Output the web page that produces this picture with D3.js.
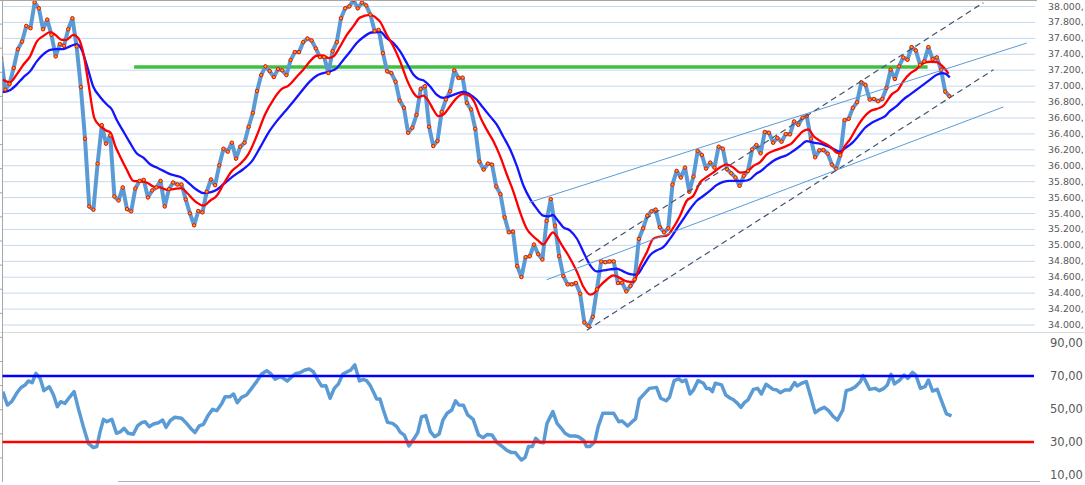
<!DOCTYPE html>
<html><head><meta charset="utf-8">
<script src="https://cdn.jsdelivr.net/npm/d3@7"></script>
<style>html,body{margin:0;padding:0;background:#fff;overflow:hidden}svg{display:block}</style>
</head><body><svg id="c" width="1085" height="485"></svg>
<script>
// ---------- DATA ----------
const priceValues = [37350,36950,37021,37221,37458,37554,37750,37721,38046,37971,
37708,37829,37638,37367,37521,37500,37708,37846,37492,36983,
36333,35483,35442,36021,36504,36271,36375,35608,35558,35721,
35450,35421,35708,35804,35817,35596,35683,35721,35804,35483,
35700,35783,35758,35758,35571,35396,35246,35425,35408,35667,
35821,35750,36000,36208,36171,36283,36083,36233,36283,36483,
36658,36933,37133,37242,37183,37108,37208,37192,37133,37321,
37421,37421,37546,37592,37567,37467,37358,37358,37158,37433,
37546,37846,37971,37996,38075,37971,38042,38008,37892,37687,
37700,37408,37179,37158,37050,36812,36721,36408,36471,36633,
36958,36992,36483,36242,36304,36671,36825,36929,37192,37096,
37100,36783,36700,36458,36046,35946,36021,36008,35733,35637,
35346,35158,35167,34733,34596,34846,34858,35004,34883,34817,
35300,35575,35242,34858,34608,34504,34504,34521,34387,34025,
33979,34096,34442,34792,34783,34792,34792,34521,34525,34417,
34483,34567,35075,35208,35367,35421,35442,35221,35158,35208,
35758,35929,35846,35971,35667,35858,36179,36129,35958,36033,
35971,36233,36208,35950,35900,35846,35742,35867,35929,36200,
36254,36150,36417,36408,36283,36342,36296,36392,36388,36550,
36508,36596,36617,36333,36100,36187,36192,36146,36008,35958,
36125,36567,36583,36721,36792,37042,37008,36825,36833,36804,
36833,36971,37200,37083,37242,37354,37325,37483,37442,37262,
37304,37483,37333,37354,37200,36925,36867];
const categories = priceValues.map((_, i) => i);

// moving averages: [session index, value]
const redMA = [[0.4,37075],[2.1,37042],[3.7,37138],[5.3,37262],[6.9,37367],[8.5,37554],[10.1,37625],[11.7,37671],[12.9,37638],[14.4,37575],[15.6,37575],[17.2,37638],[18.4,37596],[19.6,37408],[20.8,37033],[22.2,36596],[23.6,36492],[25,36437],[26.1,36408],[27.2,36242],[28.3,36117],[29.9,35950],[31.5,35804],[33.1,35796],[34.7,35783],[36.3,35733],[37.9,35721],[39.5,35692],[41.1,35700],[43,35713],[44.2,35658],[46.6,35533],[48.2,35492],[49.8,35554],[51.4,35617],[53,35762],[55,35929],[56.9,36012],[58.9,36137],[60.9,36367],[62.9,36637],[64.9,36825],[66.9,36958],[68.5,37000],[70.4,37108],[72,37200],[73.6,37304],[75.2,37375],[76.8,37379],[78,37346],[79.2,37367],[80.8,37492],[82.4,37638],[84,37750],[85.5,37854],[87.9,37888],[89.5,37846],[90.3,37804],[91.9,37638],[93.5,37492],[95.1,37304],[96.7,37075],[98.3,36908],[99.4,36854],[100.6,36875],[101.8,36812],[103,36700],[104.2,36617],[105.4,36637],[107,36742],[108.6,36846],[110.2,36896],[111.8,36867],[112.9,36783],[114.1,36617],[115.7,36450],[117.3,36304],[118.9,36117],[120.5,35887],[122.1,35667],[123.7,35408],[125.3,35200],[126.8,35108],[128,35054],[129.2,35004],[130.4,35087],[131.5,35158],[132.4,35108],[133.6,35000],[135.2,34867],[137.2,34667],[138.8,34471],[140.4,34375],[141.5,34400],[142.7,34483],[144.3,34562],[145.9,34617],[147.5,34583],[149.1,34542],[150.7,34533],[152.3,34742],[153.9,34908],[155.4,35075],[157,35104],[158.6,35117],[160.2,35217],[161.8,35367],[163.4,35554],[165,35617],[166.6,35783],[168.2,35854],[169.7,35908],[171.3,35971],[172.9,36012],[174.5,35971],[176.1,35908],[177.7,35917],[179.3,35992],[180.9,36040],[182.5,36137],[184,36179],[185.6,36208],[187.2,36242],[188.4,36275],[189.6,36346],[191.2,36429],[192.4,36450],[193.6,36367],[195.2,36304],[196.8,36262],[197.9,36221],[199.1,36158],[200.1,36150],[201.1,36242],[202.3,36325],[203.9,36471],[205.5,36596],[207.1,36679],[208.7,36708],[210.3,36750],[211.1,36804],[212.2,36887],[213.8,36950],[215,37054],[216.6,37150],[218.2,37208],[219.8,37283],[221.4,37300],[223,37296],[224.2,37250],[225.8,37150]];

const blueMA = [[0.4,36917],[2.1,36942],[3.7,37012],[5.3,37104],[6.9,37179],[8.5,37304],[10.1,37396],[11.7,37450],[13.2,37458],[14.8,37458],[16.4,37492],[18,37521],[19.2,37450],[20.4,37262],[22,36983],[23.6,36858],[25.2,36762],[26.4,36700],[27.5,36575],[29.1,36429],[30.7,36283],[32.3,36150],[33.9,36096],[35.5,36012],[37.1,35971],[38.7,35929],[40.3,35888],[41.8,35867],[43.4,35833],[45,35762],[46.6,35692],[48.2,35650],[49.8,35658],[51.4,35692],[53,35762],[55.4,35867],[57.7,35950],[59.7,36046],[61.7,36221],[63.7,36408],[65.7,36554],[67.7,36679],[69.7,36804],[71.6,36929],[73.6,37054],[75.2,37125],[76.8,37158],[78.4,37179],[80,37221],[81.6,37325],[83.2,37429],[84.7,37533],[86.3,37608],[88.3,37667],[89.9,37671],[90.3,37679],[91.9,37596],[93.5,37533],[95.1,37429],[96.7,37283],[98.3,37137],[99.4,37087],[100.6,37067],[102.2,36992],[103.8,36887],[105.4,36846],[107,36867],[108.6,36900],[110.2,36921],[111.8,36887],[113.3,36825],[114.9,36721],[116.5,36617],[118.1,36512],[119.7,36358],[121.3,36200],[122.9,35992],[124.5,35742],[126.1,35575],[127.6,35458],[129.2,35367],[130.4,35358],[131.5,35375],[132.4,35325],[134,35221],[135.6,35180],[137.2,35080],[138.8,34908],[140.4,34742],[141.9,34667],[143.5,34679],[145.1,34692],[146.7,34700],[148.3,34667],[149.9,34633],[151.5,34625],[153.1,34742],[154.6,34867],[156.2,34929],[157.8,34971],[159.4,35075],[161,35200],[162.6,35325],[164.2,35450],[165.8,35554],[167.4,35617],[168.9,35679],[170.5,35750],[172.1,35792],[173.7,35804],[175.3,35804],[176.9,35804],[178.5,35825],[180.1,35900],[180.9,35921],[182.5,35992],[184,36054],[185.6,36096],[187.2,36125],[188.8,36179],[190.4,36242],[192,36304],[193.6,36283],[195.2,36271],[196.8,36242],[198.3,36208],[199.9,36171],[201.1,36213],[202.7,36275],[204.3,36367],[205.9,36471],[207.5,36533],[209.1,36575],[210.7,36617],[211.8,36679],[213.4,36742],[215,36825],[216.6,36887],[218.2,36950],[219.8,37012],[221.4,37075],[223,37137],[224.2,37158],[225,37150],[226.1,37104]];

// RSI: [session index, value]
const rsiValues = [[0.4,60.5],[1.5,52.4],[2.5,54.4],[3.7,59.5],[4.7,62.9],[5.7,64.5],[6.5,67.0],[7.4,65.9],[8.3,71.6],[9.3,68.6],[10.2,61.1],[11.5,63.5],[12.5,58.5],[13.4,51.4],[14.2,54.4],[15.2,53.4],[16.3,57.1],[17.4,60.5],[18.4,50.4],[19.6,39.3],[20.8,29.2],[22,26.6],[22.8,27.2],[23.6,36.3],[24.4,43.7],[25.2,42.3],[26.4,43.7],[27.5,35.3],[28.5,36.3],[29.3,38.3],[30.3,35.3],[31.5,34.7],[32.5,39.7],[33.5,41.7],[34.3,42.3],[35.3,39.3],[36.3,40.9],[37.5,41.7],[38.5,43.3],[39.3,38.9],[40.3,42.9],[41.4,45.0],[43,44.4],[44.2,41.3],[45.4,37.7],[46.2,35.7],[47.2,39.7],[48.2,40.7],[49.4,46.4],[50.4,49.8],[51.4,49.0],[52.6,53.4],[53.4,57.5],[54.6,57.5],[55.4,59.1],[56.3,53.8],[57.3,57.1],[58.5,58.5],[59.7,62.5],[60.9,66.6],[62.1,71.2],[63.3,73.2],[64.2,71.6],[65.3,68.0],[66.5,69.6],[67.3,68.6],[68.2,67.0],[69.3,69.6],[70.3,71.6],[71.2,72.0],[72.4,73.6],[73.5,74.2],[74.4,72.6],[75.4,68.0],[76.4,63.9],[77.4,64.1],[78.4,56.5],[79.4,62.5],[80.4,65.2],[81.4,71.0],[82.5,72.6],[83.3,73.6],[84.3,76.7],[85.4,67.0],[86.3,68.0],[87.1,67.2],[87.9,64.5],[88.7,60.5],[89.5,56.1],[90.3,56.1],[91.1,49.4],[92.1,41.9],[93.3,41.3],[94.3,39.3],[95.1,36.0],[96.1,34.2],[97.2,27.6],[98.3,31.6],[99.3,35.7],[100.2,45.4],[101.2,46.0],[102.3,36.3],[103.3,33.2],[104.4,34.9],[105.3,43.3],[106.3,47.4],[107.4,49.4],[108.3,55.0],[109.1,52.4],[110.2,52.2],[111.2,46.4],[112.5,43.7],[113.8,34.2],[114.9,32.6],[115.9,34.6],[117,34.2],[118.2,29.6],[119.3,27.6],[120.4,25.2],[121.5,23.7],[122.5,23.7],[123.3,21.1],[124,19.1],[124.9,20.7],[125.7,27.2],[126.6,27.2],[127.4,32.2],[128.4,29.8],[129.3,29.6],[130.1,41.3],[131.5,48.4],[132.5,41.3],[133.5,38.3],[134.4,35.3],[135.5,33.6],[136.8,33.6],[137.6,33.2],[138.9,30.8],[139.5,27.2],[140.3,27.2],[141.5,30.2],[142.3,39.3],[143.4,47.4],[146,47.4],[147.2,42.3],[148,42.7],[149.3,39.7],[150.4,42.3],[151.2,44.0],[152.1,55.9],[153.4,59.5],[154.5,62.5],[156.2,63.1],[157.2,56.5],[158.5,55.0],[159.3,57.1],[160.4,67.2],[161.5,68.2],[162.3,66.6],[163.2,67.6],[164.2,59.1],[165,61.5],[166.1,67.2],[167.4,65.6],[168.1,62.5],[168.8,62.5],[169.5,60.5],[170.2,65.6],[171.7,64.6],[172.7,58.5],[173.8,56.5],[174.6,55.5],[175.5,53.4],[176.3,51.0],[177.2,54.0],[178,55.5],[179.3,61.9],[180.3,62.5],[181.2,59.1],[182.3,65.0],[184,61.9],[184.9,61.5],[185.7,59.9],[186.8,61.5],[188,61.5],[189.1,66.0],[189.7,64.0],[190.8,65.6],[191.9,66.6],[192.9,57.9],[194,47.8],[195.1,49.8],[196.2,51.0],[197.2,49.0],[198.2,45.8],[199.3,43.3],[200.6,49.4],[201.4,61.1],[202.5,61.9],[203.6,63.5],[204.8,66.6],[205.4,70.2],[207,61.9],[208.3,62.5],[209.3,61.1],[210.4,62.5],[211.2,64.5],[212.1,71.0],[212.9,65.2],[214.2,67.6],[215.2,70.6],[216.1,68.6],[217.2,72.2],[218,70.6],[219.1,62.5],[220.2,63.5],[221,67.6],[222,60.9],[223.1,61.9],[223.9,56.5],[225.3,47.0],[226.5,45.8]];

const priceTicks = [34000,34200,34400,34600,34800,35000,35200,35400,35600,35800,36000,36200,36400,36600,36800,37000,37200,37400,37600,37800,38000];
const rsiTicks = [10,30,50,70,90];
const rsiLevels = [70, 30];
const resistanceLine = [[31.7,37233],[220.8,37233]];
const channelLines = [[[125.9,35533],[244.4,37534]],[[130.0,34562],[238.9,36733]]];
const dashedLines = [[[137.6,34783],[234.1,38041]],[[139.6,33929],[236.5,37200]]];

// ---------- DRAWING ----------
const svg = d3.select("#c");
const W = 1085;
const x = d3.scaleLinear().domain([0, 226]).range([1.1, 949.4]);
const y = d3.scaleLinear().domain([34000, 38000]).range([324.5, 6]);
const yr = d3.scaleLinear().domain([10, 90]).range([475, 343]);
const plotL = 2.5, plotR = 1035;

const loc = d3.formatLocale({decimal: ",", thousands: ".", grouping: [3], currency: ["", ""]});
const fmtInt = loc.format(",.0f");
const fmtP = d => fmtInt(d) + ",";   // the visible part of the price labels ("38.000,")
const fmtR = loc.format(".2f");

const defs = svg.append("defs");
defs.append("clipPath").attr("id", "cp").append("rect")
  .attr("x", plotL).attr("y", 1).attr("width", plotR - plotL).attr("height", 331);
defs.append("clipPath").attr("id", "cr").append("rect")
  .attr("x", plotL).attr("y", 333).attr("width", plotR - plotL).attr("height", 147);

// price gridlines + labels via axis
const gAxis = svg.append("g").attr("transform", `translate(${plotR},0)`)
  .call(d3.axisRight(y).tickValues(priceTicks).tickSize(-(plotR - plotL)).tickPadding(13).tickFormat(fmtP));
gAxis.select(".domain").remove();
gAxis.selectAll(".tick line").attr("stroke", "#c5d9ef").attr("stroke-width", 1);
gAxis.selectAll(".tick text").attr("fill", "#595959").style("font-family", "DejaVu Sans").style("font-size", "9.4px");

// frame lines
svg.append("line").attr("x1", 0).attr("x2", 1037).attr("y1", 0.5).attr("y2", 0.5).attr("stroke", "#a6a6a6");
svg.append("line").attr("x1", 0).attr("x2", W).attr("y1", 332.5).attr("y2", 332.5).attr("stroke", "#d9d9d9");
svg.append("line").attr("x1", 118).attr("x2", 1040).attr("y1", 481.5).attr("y2", 481.5).attr("stroke", "#b3b3b3");
svg.append("line").attr("x1", 2.5).attr("x2", 2.5).attr("y1", 0).attr("y2", 482).attr("stroke", "#a6a6a6");
svg.append("g").selectAll("line").data(d3.range(1, 20)).join("line")
  .attr("x1", 0).attr("x2", 2.5).attr("y1", d => d * 24.1).attr("y2", d => d * 24.1).attr("stroke", "#a6a6a6");

const P = svg.append("g").attr("clip-path", "url(#cp)");
const lineXY = d3.line().x(d => x(d[0])).y(d => y(d[1]));

// resistance
P.append("path").datum(resistanceLine).attr("d", lineXY)
  .attr("stroke", "#40c040").attr("stroke-width", 3.5).attr("fill", "none");

// price
const priceLine = d3.line().x((d, i) => x(categories[i])).y(d => y(d));
P.append("path").datum(priceValues).attr("d", priceLine)
  .attr("fill", "none").attr("stroke", "#5b9bd5").attr("stroke-width", 4)
  .attr("stroke-linejoin", "round").attr("stroke-linecap", "round");

// moving averages
const smooth = d3.line().x(d => x(d[0])).y(d => y(d[1])).curve(d3.curveMonotoneX);
P.append("path").datum(blueMA).attr("d", smooth).attr("fill", "none").attr("stroke", "#1414ff").attr("stroke-width", 2.3);
P.append("path").datum(redMA).attr("d", smooth).attr("fill", "none").attr("stroke", "#ff0000").attr("stroke-width", 2.3);

// markers
P.append("g").selectAll("circle").data(priceValues).join("circle")
  .attr("cx", (d, i) => x(categories[i])).attr("cy", d => y(d)).attr("r", 1.7)
  .attr("fill", "#ffa000").attr("stroke", "#f00000").attr("stroke-width", 0.9);

// trend channel lines
P.append("g").selectAll("path").data(channelLines).join("path").attr("d", lineXY)
  .attr("fill", "none").attr("stroke", "#5b9bd5").attr("stroke-width", 1);
P.append("g").selectAll("path").data(dashedLines).join("path").attr("d", lineXY)
  .attr("fill", "none").attr("stroke", "#44546a").attr("stroke-width", 1.2).attr("stroke-dasharray", "6,4");

// RSI panel
const gR = svg.append("g").attr("transform", `translate(${plotR},0)`)
  .call(d3.axisRight(yr).tickValues(rsiTicks).tickSize(0).tickPadding(15).tickFormat(fmtR));
gR.select(".domain").remove();
gR.selectAll(".tick text").attr("fill", "#595959").style("font-family", "DejaVu Sans").style("font-size", "11.5px");

const R = svg.append("g").attr("clip-path", "url(#cr)");
R.append("path").datum(rsiValues)
  .attr("d", d3.line().x(d => x(d[0])).y(d => yr(d[1])))
  .attr("fill", "none").attr("stroke", "#5b9bd5").attr("stroke-width", 3.5).attr("stroke-linejoin", "round");
const levelColor = {70: "#0000ff", 30: "#ff0000"};
svg.append("g").selectAll("line").data(rsiLevels).join("line")
  .attr("x1", plotL).attr("x2", 1034).attr("y1", d => yr(d)).attr("y2", d => yr(d))
  .attr("stroke", d => levelColor[d]).attr("stroke-width", 2.5);
</script></body></html>
